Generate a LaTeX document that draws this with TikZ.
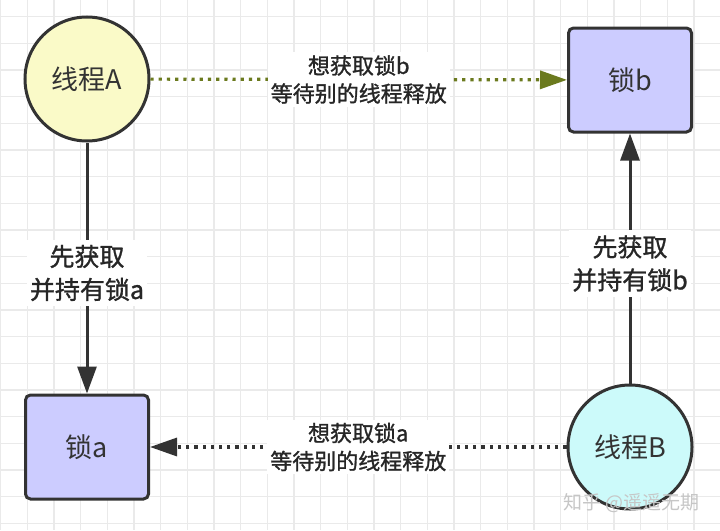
\documentclass[tikz,border=0pt]{standalone}
\usepackage{fontspec}
\setmainfont{Noto Sans CJK SC}
\newfontfamily\tagfont[FakeBold=1.2]{Noto Sans CJK SC}
\usepackage{xcolor}
\usepackage{tikz}
\usetikzlibrary{positioning, arrows.meta, calc}
\definecolor{gridgray}{HTML}{EAEAEA}
\definecolor{threadyellow}{HTML}{FAFAC8}
\definecolor{threadcyan}{HTML}{CCFAFA}
\definecolor{locklilac}{HTML}{CCCCFF}
\definecolor{edgegray}{HTML}{333333}
\definecolor{waitolive}{HTML}{6B7A1E}

\begin{document}
\begin{tikzpicture}[x=1pt, y=-1pt,
    gridline/.style={draw=gridgray, line width=1.2pt},
    thread/.style={circle, draw=edgegray, line width=3pt, minimum size=124pt,
      inner sep=0pt, text=edgegray, font=\fontsize{27}{30}\selectfont},
    lockbox/.style={rectangle, rounded corners=5pt, draw=edgegray, fill=locklilac,
      line width=3pt, minimum width=123pt, minimum height=104pt,
      text=edgegray, font=\fontsize{27}{30}\selectfont},
    holds/.style={draw=edgegray, line width=3pt, -{Triangle[length=27pt, width=19pt]}},
    waits/.style={line width=3.2pt, dash pattern=on 3.2pt off 5pt,
      -{Triangle[length=27pt, width=18pt]}},
    holdtag/.style={fill=white, align=center, inner xsep=3pt, inner ysep=5pt,
      text=black!85, font=\tagfont\fontsize{25}{33}\selectfont},
    waittag/.style={fill=white, align=center, inner xsep=3pt, inner ysep=3pt,
      text=black!85, font=\tagfont\fontsize{22}{28}\selectfont},
  ]
  \useasboundingbox (0,0) rectangle (720,530);
  \fill[white] (0,0) rectangle (720,530);
  % background grid
  \foreach \gx in {0.6,27.27,...,720}
    \draw[gridline] (\gx,0) -- (\gx,530);
  \foreach \gy in {16.7,43.37,...,530}
    \draw[gridline] (0,\gy) -- (720,\gy);

  \node[thread, fill=threadyellow] (threadA) at (87,79) {线程A};
  \node[lockbox] (lockB) at (630,80) {锁b};
  \node[lockbox] (lockA) at (87,447) {锁a};
  \node[thread, fill=threadcyan] (threadB) at (630,447) {线程B};

  \draw[holds] (threadA) -- (lockA) node[holdtag, pos=0.52] {先获取\\并持有锁a};
  \draw[holds] (threadB) -- (lockB) node[holdtag, pos=0.48] {先获取\\并持有锁b};
  \draw[waits, waitolive] (threadA) -- (lockB) node[waittag, midway] {想获取锁b\\等待别的线程释放};
  \draw[waits, edgegray] (threadB) -- (lockA) node[waittag, midway] {想获取锁a\\等待别的线程释放};

  \node[anchor=east, text=gray!45, font=\fontsize{19}{22}\selectfont] (mark) at (703,503) {知乎 @遥遥无期};
\end{tikzpicture}
\end{document}
